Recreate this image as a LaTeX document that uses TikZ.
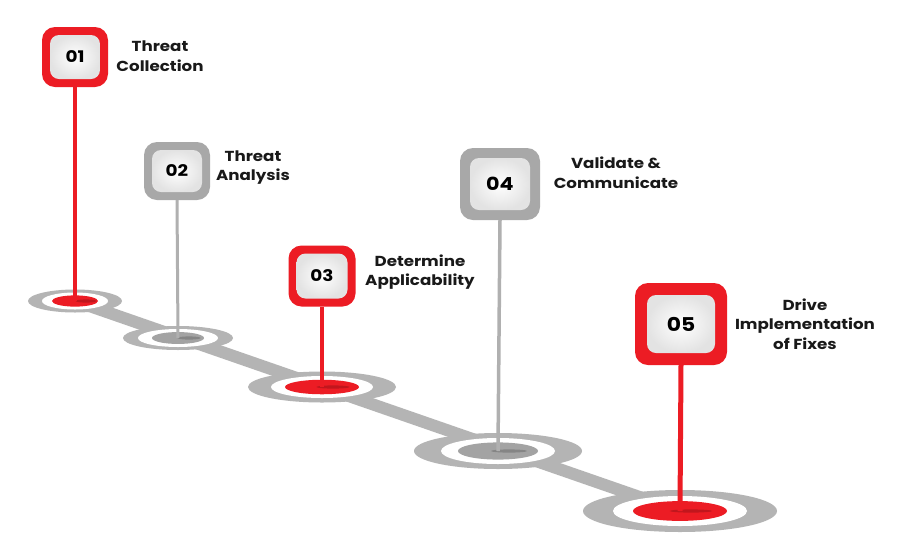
\documentclass[tikz,border=0pt]{standalone}
\usepackage{fontspec}
\setmainfont{Poppins}[FakeStretch=1.15]
\definecolor{tred}{HTML}{EC1C24}
\definecolor{boxgray}{HTML}{A8A8A8}
\definecolor{bandgray}{HTML}{B4B4B4}
\definecolor{stemgray}{HTML}{B0B0B0}
\definecolor{innergray}{HTML}{A3A3A3}
\tikzset{
  outerbox/.style={rounded corners=13pt, inner sep=0pt},
  innerbox/.style={rounded corners=9pt, inner sep=0pt, shade, inner color=white, outer color=black!11, text=black},
  lbl/.style={align=center, font=\bfseries\fontsize{14.5}{19.5}\selectfont, text=black!90},
}
\newcommand{\pinbox}[9]{%
  \node[outerbox, fill=#7, minimum width=#4pt, minimum height=#5pt] (#1) at (#2,#3) {};
  \node[innerbox, minimum width={#4pt-2*#6pt}, minimum height={#5pt-2*#6pt}, font=\bfseries\fontsize{#9}{#9}\selectfont] (#1n) at (#2,#3) {#8};
}
\newcommand{\pinring}[9]{%
  \fill[bandgray] (#2,#3) ellipse [x radius=#4pt, y radius=#5pt];
  \fill[white] (#2,#3) ellipse [x radius=#6pt, y radius=#7pt];
  \fill[#9] (#2,#3) ellipse [x radius=#8pt, y radius={#7pt*0.66}];
  \fill[black, opacity=0.18] ({#2+11},#3) ellipse [x radius={#8pt*0.45}, y radius=1.6pt];
  \coordinate (#1) at (#2,#3);
}
\begin{document}
\begin{tikzpicture}[x=1pt,y=-1pt]
\useasboundingbox (0,0) rectangle (911,558);
\fill[white] (0,0) rectangle (911,558);
% band
\coordinate (s) at (75,301);
\coordinate (e) at (680,511);
\draw[bandgray, line width=12pt] (s) -- (e);
% rings
\pinring{r1}{75}{301}{47}{11.5}{33}{8.5}{23}{tred}
\pinring{r2}{178}{338}{55}{12}{40}{9}{26}{innergray}
\pinring{r3}{322}{387}{74}{15.5}{51}{11}{37}{tred}
\pinring{r4}{498}{451}{84}{18}{57}{13}{40}{innergray}
\pinring{r5}{680}{511}{97}{21}{67}{15}{47}{tred}
% boxes
\pinbox{b1}{75}{57}{66}{60}{8}{tred}{01}{16}
\pinbox{b2}{177}{171}{66}{58}{8}{boxgray}{02}{16}
\pinbox{b3}{322}{276}{67}{61}{8}{tred}{03}{16}
\pinbox{b4}{500}{184}{80}{72}{10}{boxgray}{04}{18}
\pinbox{b5}{681}{324}{92}{82}{12}{tred}{05}{19}
% stems
\draw[tred, line width=3.5pt] (b1.south) -- (r1);
\draw[stemgray, line width=3pt] (b2.south) -- (r2);
\draw[tred, line width=4pt] (b3.south) -- (r3);
\draw[stemgray, line width=3.5pt] (b4.south) -- (r4);
\draw[tred, line width=5pt] (b5.south) -- (r5);
% labels
\node[lbl] (t1) at (160,56) {Threat\\Collection};
\node[lbl] (t2) at (253,167.5) {Threat\\Analysis};
\node[lbl] (t3) at (420,272) {Determine\\Applicability};
\node[lbl] (t4) at (616,172.5) {Validate \&\\Communicate};
\node[lbl] (t5) at (805,324) {Drive\\Implementation\\of Fixes};
\end{tikzpicture}
\end{document}
